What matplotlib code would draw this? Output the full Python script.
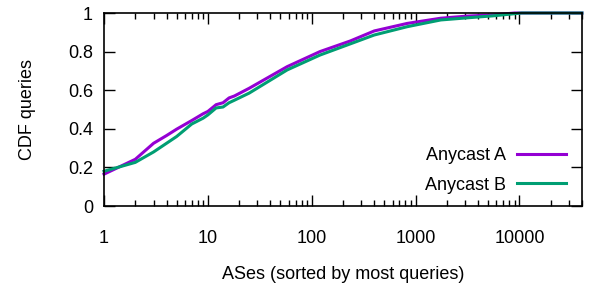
import matplotlib
matplotlib.use('Agg')
import matplotlib.pyplot as plt
from matplotlib.ticker import LogLocator, NullFormatter, FixedLocator

plt.rcParams['font.family'] = ['Liberation Sans', 'DejaVu Sans']

# ranks of ASes (sorted by most queries) and the CDF of queries
lsRankA = [1, 2, 3, 4, 5, 7, 9, 10, 12, 14, 16, 18, 25, 58, 120, 235, 400,
           830, 1750, 3150, 5500, 9000, 40000]
lsCdfA = [0.165, 0.242, 0.325, 0.365, 0.398, 0.443, 0.478, 0.49, 0.525, 0.535,
          0.56, 0.57, 0.61, 0.722, 0.80, 0.855, 0.907, 0.946, 0.973, 0.984,
          0.99, 1.0, 1.0]

lsRankB = [1, 2, 3, 4, 5, 7, 9, 10, 12, 14, 16, 18, 25, 58, 120, 235, 400,
           830, 1750, 3150, 5500, 10500, 40000]
lsCdfB = [0.18, 0.226, 0.28, 0.325, 0.36, 0.425, 0.455, 0.472, 0.508, 0.513,
          0.535, 0.548, 0.585, 0.705, 0.782, 0.84, 0.886, 0.929, 0.964, 0.975,
          0.985, 1.0, 1.0]

lsYTicks = [0, 0.2, 0.4, 0.6, 0.8, 1]
lsYTickLabels = ['0', '0.2', '0.4', '0.6', '0.8', '1']

fig = plt.figure(figsize=(5.92, 2.87), dpi=100)
ax = fig.add_axes([0.1757, 0.2822, 0.8073, 0.6725])

ax.plot(lsRankA, lsCdfA, color='#9400d3', lw=2.2, label='Anycast A', clip_on=False)
ax.plot(lsRankB, lsCdfB, color='#009e73', lw=2.2, label='Anycast B', clip_on=False)

ax.set_xscale('log')
ax.set_xlim(1, 40000)
ax.set_ylim(0, 1)

ax.xaxis.set_major_locator(FixedLocator([1, 10, 100, 1000, 10000]))
ax.set_xticklabels(['1', '10', '100', '1000', '10000'])
ax.xaxis.set_minor_locator(LogLocator(base=10, subs=range(2, 10), numticks=20))
ax.xaxis.set_minor_formatter(NullFormatter())
ax.set_yticks(lsYTicks)
ax.set_yticklabels(lsYTickLabels)

ax.tick_params(which='both', direction='in', top=True, right=True,
               labelsize=13, width=1.0, color='black')
ax.tick_params(which='major', length=8)
ax.tick_params(which='minor', length=4)
ax.tick_params(axis='x', which='major', pad=17)
ax.tick_params(axis='y', which='major', pad=8)

for spine in ax.spines.values():
    spine.set_linewidth(1.2)

ax.set_xlabel('ASes (sorted by most queries)', fontsize=13, labelpad=14)
ax.set_ylabel('CDF queries', fontsize=13, labelpad=23)

ax.legend(loc='lower right', frameon=False, fontsize=13, markerfirst=False,
          handlelength=2.7, handletextpad=0.6, labelspacing=0.68,
          borderaxespad=0.5, bbox_to_anchor=(1.0, -0.02))

fig.savefig('out.png', dpi=100)
